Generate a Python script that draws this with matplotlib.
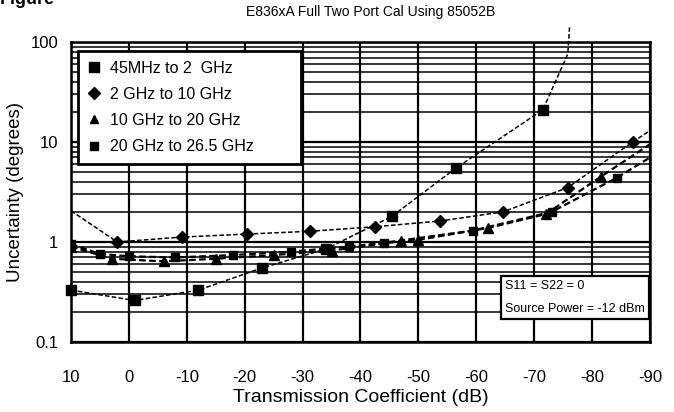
import matplotlib.pyplot as plt
from matplotlib.lines import Line2D

plt.rcParams['font.family'] = ['Liberation Sans Narrow', 'DejaVu Sans Condensed', 'Liberation Sans', 'DejaVu Sans']

title = "E836xA Full Two Port Cal Using 85052B"
x_ticks = [10, 0, -10, -20, -30, -40, -50, -60, -70, -80, -90]
y_ticks = [0.1, 1, 10, 100]
y_tick_labels = ["0.1", "1", "10", "100"]

labels = ["45MHz to 2  GHz", "2 GHz to 10 GHz", "10 GHz to 20 GHz", "20 GHz to 26.5 GHz"]

# 45 MHz to 2 GHz (last two points: curve running off the top, no marker)
s1_x = [10, -1, -12, -23, -34, -45.4, -56.5, -71.5, -75.8, -76.1]
s1_y = [0.33, 0.26, 0.33, 0.55, 0.85, 1.8, 5.5, 21, 76, 140]
s1_marks = [0, 1, 2, 3, 4, 5, 6, 7]

# 2 GHz to 10 GHz
s2_x = [10, 2, -9.2, -20.4, -31.3, -42.5, -53.7, -64.6, -75.8, -87, -90]
s2_y = [2.05, 1.0, 1.12, 1.2, 1.28, 1.42, 1.62, 2.0, 3.5, 10, 13]
s2_marks = [1, 2, 3, 4, 5, 6, 7, 8, 9]

# 10 GHz to 20 GHz
s3_x = [10, 3, -6, -15, -25, -35, -47, -50, -62, -72, -81.5, -90]
s3_y = [0.9, 0.68, 0.64, 0.68, 0.74, 0.82, 1.02, 1.05, 1.38, 1.9, 4.5, 9.5]
s3_marks = [0, 1, 2, 3, 4, 5, 6, 7, 8, 9, 10]

# 20 GHz to 26.5 GHz
s4_x = [10, 5, 0, -8, -18, -28, -38, -44, -59.4, -73, -84.3, -90]
s4_y = [0.95, 0.76, 0.72, 0.7, 0.74, 0.8, 0.9, 0.98, 1.3, 2.0, 4.4, 7.0]
s4_marks = [0, 1, 2, 3, 4, 5, 6, 7, 8, 9, 10]

fig = plt.figure(figsize=(6.74, 4.12), dpi=100)
ax = fig.add_axes([0.1053, 0.170, 0.8591, 0.728])

dash = (0, (3, 1.5))
ax.plot(s1_x, s1_y, color='k', lw=1.1, ls=dash, marker='s', ms=7,
        markevery=s1_marks, clip_on=False, zorder=5)
ax.plot(s2_x, s2_y, color='k', lw=1.1, ls=dash, marker='D', ms=6.5,
        markevery=s2_marks, zorder=5)
ax.plot(s3_x, s3_y, color='k', lw=1.6, ls=dash, marker='^', ms=6.5,
        markevery=s3_marks, zorder=5)
ax.plot(s4_x, s4_y, color='k', lw=1.6, ls=dash, marker='s', ms=5.5,
        markevery=s4_marks, zorder=5)

ax.set_yscale('log')
ax.set_ylim(0.1, 100)
ax.set_xlim(10, -90)
ax.set_xticks(x_ticks)
ax.set_xticklabels([str(v) for v in x_ticks])
ax.set_yticks(y_ticks)
ax.set_yticklabels(y_tick_labels)
ax.tick_params(axis='both', which='both', length=0, labelsize=12)
ax.tick_params(axis='x', pad=20)
ax.tick_params(axis='y', pad=9)

ax.grid(True, which='major', axis='both', color='k', lw=1.6)
ax.grid(True, which='minor', axis='y', color='k', lw=1.1)
for s in ax.spines.values():
    s.set_linewidth(1.8)

ax.set_xlabel("Transmission Coefficient (dB)", fontsize=14, labelpad=3)
ax.set_ylabel("Uncertainty (degrees)", fontsize=13.5, labelpad=5)
fig.text(0.55, 0.972, title, ha='center', va='center', fontsize=10)
fig.text(0.0, 1.0, "Figure", ha='left', va='center', fontsize=13, fontweight='bold')

handles = [
    Line2D([], [], color='k', ls='none', marker='s', ms=7),
    Line2D([], [], color='k', ls='none', marker='D', ms=6),
    Line2D([], [], color='k', ls='none', marker='^', ms=6),
    Line2D([], [], color='k', ls='none', marker='s', ms=5.5),
]
leg = ax.legend(handles, labels, loc='upper left', mode='expand',
                bbox_to_anchor=(0.012, 0.6, 0.385, 0.37),
                fontsize=11.5, frameon=True, fancybox=False, framealpha=1,
                edgecolor='k', handlelength=0.8, handletextpad=0.6,
                labelspacing=0.7, borderpad=0.6, borderaxespad=0)
leg.get_frame().set_linewidth(2)
leg.set_zorder(10)

ax.text(0.75, 0.205, "S11 = S22 = 0\n\nSource Power = -12 dBm", transform=ax.transAxes,
        fontsize=9, va='top', ha='left', linespacing=0.9, zorder=10,
        bbox=dict(boxstyle='square,pad=0.35', fc='white', ec='k', lw=1.6))

fig.savefig("out.png", dpi=100)
